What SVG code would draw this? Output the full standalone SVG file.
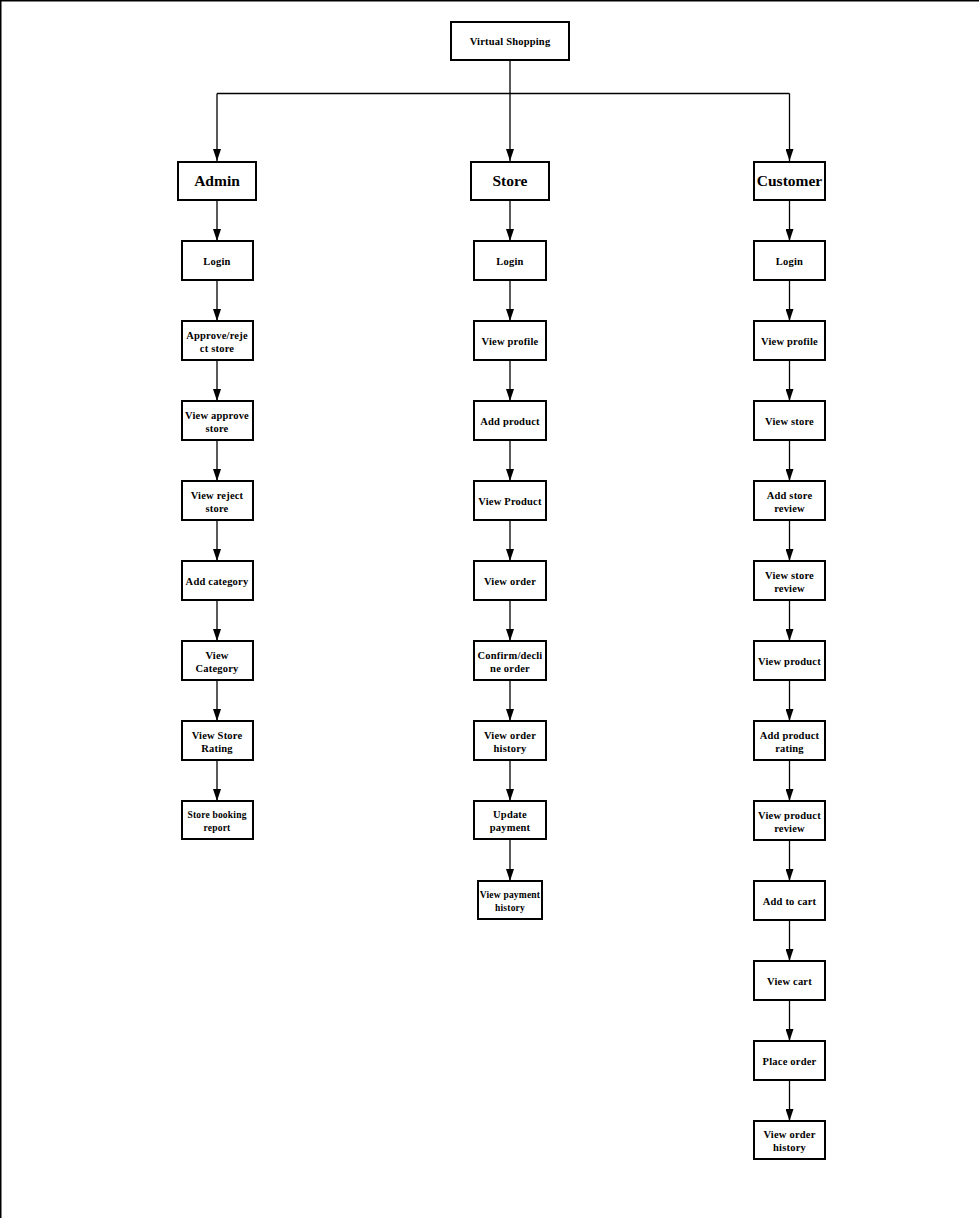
<svg xmlns="http://www.w3.org/2000/svg" width="979" height="1218" viewBox="0 0 979 1218">
<style>
.b{fill:#fff;stroke:#000;stroke-width:2}
.t{font-family:"Liberation Serif","Times New Roman",serif;font-weight:bold;font-size:10.5px;letter-spacing:0.2px;text-anchor:middle;fill:#000}
.h{font-size:15.5px;letter-spacing:0}
.s{font-size:9.5px}
.c{fill:none;stroke:#000;stroke-width:1.3}
</style>
<defs>
<marker id="ar" viewBox="0 0 12 8" refX="12" refY="4" markerWidth="12" markerHeight="8" orient="auto" markerUnits="userSpaceOnUse"><path d="M0,0 L12,4 L0,8 Z" fill="#000"/></marker>
</defs>
<rect x="0" y="0" width="979" height="1218" fill="#fff"/>
<path d="M0.75,1218 V0.75 H979" fill="none" stroke="#000" stroke-width="1.5"/>
<g id="connectors">
<path class="c" d="M510,60 V161" marker-end="url(#ar)"/>
<path class="c" d="M217,93.5 H789.5"/>
<path class="c" d="M217,93.5 V161" marker-end="url(#ar)"/>
<path class="c" d="M789.5,93.5 V161" marker-end="url(#ar)"/>
<path class="c" d="M217,200 V241" marker-end="url(#ar)"/>
<path class="c" d="M217,280 V321" marker-end="url(#ar)"/>
<path class="c" d="M217,360 V401" marker-end="url(#ar)"/>
<path class="c" d="M217,440 V481" marker-end="url(#ar)"/>
<path class="c" d="M217,520 V561" marker-end="url(#ar)"/>
<path class="c" d="M217,600 V641" marker-end="url(#ar)"/>
<path class="c" d="M217,680 V721" marker-end="url(#ar)"/>
<path class="c" d="M217,760 V801" marker-end="url(#ar)"/>
<path class="c" d="M510,200 V241" marker-end="url(#ar)"/>
<path class="c" d="M510,280 V321" marker-end="url(#ar)"/>
<path class="c" d="M510,360 V401" marker-end="url(#ar)"/>
<path class="c" d="M510,440 V481" marker-end="url(#ar)"/>
<path class="c" d="M510,520 V561" marker-end="url(#ar)"/>
<path class="c" d="M510,600 V641" marker-end="url(#ar)"/>
<path class="c" d="M510,680 V721" marker-end="url(#ar)"/>
<path class="c" d="M510,760 V801" marker-end="url(#ar)"/>
<path class="c" d="M510,839 V881" marker-end="url(#ar)"/>
<path class="c" d="M789.5,200 V241" marker-end="url(#ar)"/>
<path class="c" d="M789.5,280 V321" marker-end="url(#ar)"/>
<path class="c" d="M789.5,360 V401" marker-end="url(#ar)"/>
<path class="c" d="M789.5,440 V481" marker-end="url(#ar)"/>
<path class="c" d="M789.5,520 V561" marker-end="url(#ar)"/>
<path class="c" d="M789.5,600 V641" marker-end="url(#ar)"/>
<path class="c" d="M789.5,680 V721" marker-end="url(#ar)"/>
<path class="c" d="M789.5,760 V801" marker-end="url(#ar)"/>
<path class="c" d="M789.5,840 V881" marker-end="url(#ar)"/>
<path class="c" d="M789.5,920 V961" marker-end="url(#ar)"/>
<path class="c" d="M789.5,1000 V1041" marker-end="url(#ar)"/>
<path class="c" d="M789.5,1080 V1121" marker-end="url(#ar)"/>
</g>
<g id="root"><rect class="b" x="451" y="22" width="118" height="38"/><text class="t" x="510" y="45">Virtual Shopping</text></g>
<g id="admin"><rect class="b" x="178" y="162" width="78" height="38"/><text class="t h" x="217" y="186">Admin</text></g>
<g id="store"><rect class="b" x="471" y="162" width="78" height="38"/><text class="t h" x="510" y="186">Store</text></g>
<g id="customer"><rect class="b" x="754" y="162" width="71" height="38"/><text class="t h" x="789.5" y="186">Customer</text></g>

<g id="a1"><rect class="b" x="182" y="241" width="71" height="39"/><text class="t" x="217" y="264.5">Login</text></g>
<g id="a2"><rect class="b" x="182" y="321" width="71" height="39"/><text class="t" x="217" y="338.5">Approve/reje</text><text class="t" x="217" y="351.5">ct store</text></g>
<g id="a3"><rect class="b" x="182" y="401" width="71" height="39"/><text class="t" x="217" y="418.5">View approve</text><text class="t" x="217" y="431.5">store</text></g>
<g id="a4"><rect class="b" x="182" y="481" width="71" height="39"/><text class="t" x="217" y="498.5">View reject</text><text class="t" x="217" y="511.5">store</text></g>
<g id="a5"><rect class="b" x="182" y="561" width="71" height="39"/><text class="t" x="217" y="584.5">Add category</text></g>
<g id="a6"><rect class="b" x="182" y="641" width="71" height="39"/><text class="t" x="217" y="658.5">View</text><text class="t" x="217" y="671.5">Category</text></g>
<g id="a7"><rect class="b" x="182" y="721" width="71" height="39"/><text class="t" x="217" y="738.5">View Store</text><text class="t" x="217" y="751.5">Rating</text></g>
<g id="a8"><rect class="b" x="182" y="801" width="71" height="38"/><text class="t s" x="217" y="818">Store booking</text><text class="t s" x="217" y="830.5">report</text></g>

<g id="s1"><rect class="b" x="474" y="241" width="72" height="39"/><text class="t" x="510" y="264.5">Login</text></g>
<g id="s2"><rect class="b" x="474" y="321" width="72" height="39"/><text class="t" x="510" y="344.5">View profile</text></g>
<g id="s3"><rect class="b" x="474" y="401" width="72" height="39"/><text class="t" x="510" y="424.5">Add product</text></g>
<g id="s4"><rect class="b" x="474" y="481" width="72" height="39"/><text class="t" x="510" y="504.5">View Product</text></g>
<g id="s5"><rect class="b" x="474" y="561" width="72" height="39"/><text class="t" x="510" y="584.5">View order</text></g>
<g id="s6"><rect class="b" x="474" y="641" width="72" height="39"/><text class="t" x="510" y="658.5">Confirm/decli</text><text class="t" x="510" y="671.5">ne order</text></g>
<g id="s7"><rect class="b" x="474" y="721" width="72" height="39"/><text class="t" x="510" y="738.5">View order</text><text class="t" x="510" y="751.5">history</text></g>
<g id="s8"><rect class="b" x="474" y="801" width="72" height="38"/><text class="t" x="510" y="818">Update</text><text class="t" x="510" y="831">payment</text></g>
<g id="s9"><rect class="b" x="478" y="881" width="64" height="38"/><text class="t s" x="510" y="898">View payment</text><text class="t s" x="510" y="910.5">history</text></g>

<g id="c1"><rect class="b" x="754" y="241" width="71" height="39"/><text class="t" x="789.5" y="264.5">Login</text></g>
<g id="c2"><rect class="b" x="754" y="321" width="71" height="39"/><text class="t" x="789.5" y="344.5">View profile</text></g>
<g id="c3"><rect class="b" x="754" y="401" width="71" height="39"/><text class="t" x="789.5" y="424.5">View store</text></g>
<g id="c4"><rect class="b" x="754" y="481" width="71" height="39"/><text class="t" x="789.5" y="498.5">Add store</text><text class="t" x="789.5" y="511.5">review</text></g>
<g id="c5"><rect class="b" x="754" y="561" width="71" height="39"/><text class="t" x="789.5" y="578.5">View store</text><text class="t" x="789.5" y="591.5">review</text></g>
<g id="c6"><rect class="b" x="754" y="641" width="71" height="39"/><text class="t" x="789.5" y="664.5">View product</text></g>
<g id="c7"><rect class="b" x="754" y="721" width="71" height="39"/><text class="t" x="789.5" y="738.5">Add product</text><text class="t" x="789.5" y="751.5">rating</text></g>
<g id="c8"><rect class="b" x="754" y="801" width="71" height="39"/><text class="t" x="789.5" y="818.5">View product</text><text class="t" x="789.5" y="831.5">review</text></g>
<g id="c9"><rect class="b" x="754" y="881" width="71" height="39"/><text class="t" x="789.5" y="904.5">Add to cart</text></g>
<g id="c10"><rect class="b" x="754" y="961" width="71" height="39"/><text class="t" x="789.5" y="984.5">View cart</text></g>
<g id="c11"><rect class="b" x="754" y="1041" width="71" height="39"/><text class="t" x="789.5" y="1064.5">Place order</text></g>
<g id="c12"><rect class="b" x="754" y="1121" width="71" height="38"/><text class="t" x="789.5" y="1138">View order</text><text class="t" x="789.5" y="1151">history</text></g>
</svg>
